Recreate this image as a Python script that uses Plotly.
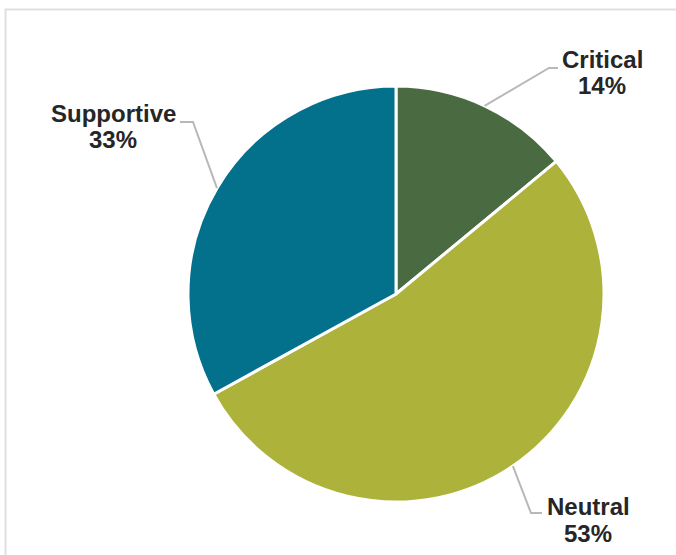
import math
import plotly.graph_objects as go

# Share of responses by stance
categories = ["Critical", "Neutral", "Supportive"]
shares = [14, 53, 33]
colors = ["#4a6b41", "#adb23a", "#03708c"]

W, H = 676, 555

# Pie geometry in pixels
cx, cy, r = 396, 294, 208

# Label placement (pixels): text centre x, line-1 centre y, line-2 centre y,
# leader elbow and leader end points
label_layout = {
    "Critical":   dict(tx=602, y1=59, y2=86, elbow=(549, 68), end=(558, 68)),
    "Neutral":    dict(tx=588, y1=506, y2=533, elbow=(531, 513), end=(542, 513)),
    "Supportive": dict(tx=113, y1=113, y2=139, elbow=(193, 122), end=(180, 122)),
}


def px(x):
    return x / W


def py(y):
    return 1 - y / H


fig = go.Figure(
    go.Pie(
        labels=categories,
        values=shares,
        sort=False,
        direction="clockwise",
        rotation=0,
        marker=dict(colors=colors, line=dict(color="white", width=3)),
        textinfo="none",
        hoverinfo="label+percent",
        domain=dict(x=[px(cx - r), px(cx + r)], y=[py(cy + r), py(cy - r)]),
        showlegend=False,
    )
)

shapes = []
annotations = []
total = sum(shares)
cum = 0
for name, val in zip(categories, shares):
    mid = (cum + val / 2) / total * 2 * math.pi
    cum += val
    sx = cx + r * math.sin(mid)
    sy = cy - r * math.cos(mid)
    lay = label_layout[name]
    ex, ey = lay["elbow"]
    fx, fy = lay["end"]
    shapes.append(dict(
        type="path", xref="paper", yref="paper",
        path=f"M {px(sx)} {py(sy)} L {px(ex)} {py(ey)} L {px(fx)} {py(fy)}",
        line=dict(color="#b8b8b8", width=2),
    ))
    for text, yy in ((name, lay["y1"]), (f"{val}%", lay["y2"])):
        annotations.append(dict(
            x=px(lay["tx"]), y=py(yy), xref="paper", yref="paper",
            text=f"<b>{text}</b>", showarrow=False,
            xanchor="center", yanchor="middle",
            font=dict(family="Liberation Sans, Arial, sans-serif", size=24, color="#262626"),
        ))

# Outer frame
shapes.append(dict(
    type="rect", xref="paper", yref="paper",
    x0=px(5.5), y0=py(H + 20), x1=px(W + 20), y1=py(9.5),
    line=dict(color="#e0e0e0", width=2), fillcolor="rgba(0,0,0,0)",
))

fig.update_layout(
    width=W, height=H,
    margin=dict(l=0, r=0, t=0, b=0),
    paper_bgcolor="white", plot_bgcolor="white",
    shapes=shapes, annotations=annotations,
)

fig.write_html("out.html")
